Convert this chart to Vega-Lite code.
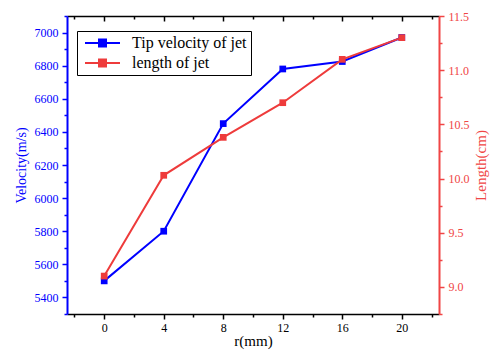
{
  "$schema": "https://vega.github.io/schema/vega-lite/v6.json",
  "width": 372,
  "height": 298,
  "autosize": {"type": "none"},
  "padding": {"left": 67, "top": 16, "right": 58, "bottom": 37},
  "config": {
    "view": {"stroke": null},
    "font": "Liberation Serif",
    "axis": {"grid": false, "labelFont": "Liberation Serif", "titleFont": "Liberation Serif", "titleFontWeight": "normal", "labelFontSize": 12, "titleFontSize": 14}
  },
  "data": {
    "values": [
      {"r": 0, "velocity": 5500, "length": 9.1},
      {"r": 4, "velocity": 5800, "length": 10.03},
      {"r": 8, "velocity": 6450, "length": 10.38},
      {"r": 12, "velocity": 6780, "length": 10.7},
      {"r": 16, "velocity": 6825, "length": 11.1},
      {"r": 20, "velocity": 6970, "length": 11.3}
    ]
  },
  "layer": [
    {
      "mark": {"type": "line", "strokeWidth": 2, "point": {"shape": "square", "filled": true, "size": 45}},
      "encoding": {
        "x": {
          "field": "r", "type": "quantitative",
          "scale": {"domain": [-2.5, 22.5], "nice": false, "zero": false},
          "axis": {
            "orient": "bottom",
            "values": [-2, 0, 2, 4, 6, 8, 10, 12, 14, 16, 18, 20, 22],
            "labelExpr": "datum.value % 4 == 0 ? datum.label : ''",
            "tickSize": {"condition": {"test": "datum.value % 4 != 0", "value": 3}, "value": 5},
            "tickColor": "black", "tickWidth": 1.5,
            "domainColor": "black", "domainWidth": 1.5,
            "labelFont": "Liberation Serif", "labelFontSize": 12,
            "labelColor": "black", "labelPadding": 3,
            "title": "r(mm)", "titleFont": "Liberation Serif", "titleColor": "black", "titleFontSize": 15, "titlePadding": 0
          }
        },
        "y": {
          "field": "velocity", "type": "quantitative",
          "scale": {"domain": [5300, 7100], "nice": false, "zero": false},
          "axis": {
            "orient": "left",
            "values": [5300, 5400, 5500, 5600, 5700, 5800, 5900, 6000, 6100, 6200, 6300, 6400, 6500, 6600, 6700, 6800, 6900, 7000, 7100],
            "format": "d",
            "labelExpr": "datum.value % 200 == 0 ? datum.label : ''",
            "tickSize": {"condition": {"test": "datum.value % 200 != 0", "value": 3}, "value": 5},
            "tickColor": "#0000FF", "tickWidth": 1.5,
            "domainColor": "#0000FF", "domainWidth": 2,
            "labelFont": "Liberation Serif", "labelFontSize": 12,
            "labelColor": "#0000FF", "labelPadding": 4,
            "title": "Velocity(m/s)", "titleFont": "Liberation Serif", "titleColor": "#0000FF", "titlePadding": 6
          }
        },
        "color": {
          "datum": "Tip velocity of jet", "type": "nominal",
          "scale": {"domain": ["Tip velocity of jet", "length of jet"], "range": ["#0000FF", "#EE3B3B"]},
          "legend": {
            "orient": "none", "legendX": 10, "legendY": 15,
            "title": null,
            "strokeColor": "black", "fillColor": "white", "padding": 4,
            "labelFont": "Liberation Serif", "labelFontSize": 16, "labelColor": "black", "labelOffset": 35,
            "symbolType": "M-1,0H7.75M2.5,-0.875H4.25V0.875H2.5Z", "symbolSize": 64, "symbolStrokeWidth": 2,
            "rowPadding": 4
          }
        }
      }
    },
    {
      "mark": {"type": "line", "strokeWidth": 2, "point": {"shape": "square", "filled": true, "size": 45}},
      "encoding": {
        "x": {
          "field": "r", "type": "quantitative",
          "scale": {"domain": [-2.5, 22.5], "nice": false, "zero": false},
          "axis": {
            "orient": "top",
            "values": [-2, 0, 2, 4, 6, 8, 10, 12, 14, 16, 18, 20, 22],
            "labels": false, "title": null,
            "tickSize": {"condition": {"test": "datum.value % 4 != 0", "value": -3}, "value": -5},
            "tickColor": "black", "tickWidth": 1.5,
            "domainColor": "black", "domainWidth": 1.5
          }
        },
        "y": {
          "field": "length", "type": "quantitative",
          "scale": {"domain": [8.75, 11.5], "nice": false, "zero": false},
          "axis": {
            "orient": "right",
            "values": [8.75, 9, 9.25, 9.5, 9.75, 10, 10.25, 10.5, 10.75, 11, 11.25, 11.5],
            "format": ".1f",
            "labelExpr": "(datum.value * 2) % 1 == 0 ? format(datum.value, '.1f') : ''",
            "tickSize": {"condition": {"test": "(datum.value * 2) % 1 != 0", "value": 3}, "value": 5},
            "tickColor": "#F04545", "tickWidth": 1.5,
            "domainColor": "#F04545", "domainWidth": 2,
            "labelFont": "Liberation Serif", "labelFontSize": 12,
            "labelColor": "#F04545", "labelPadding": 4,
            "title": "Length(cm)", "titleFont": "Liberation Serif", "titleColor": "#F04545", "titleFontSize": 15, "titleAngle": 270, "titleBaseline": "top", "titlePadding": 4
          }
        },
        "color": {
          "datum": "length of jet", "type": "nominal"
        }
      }
    }
  ],
  "resolve": {"scale": {"y": "independent"}, "axis": {"x": "independent"}}
}
